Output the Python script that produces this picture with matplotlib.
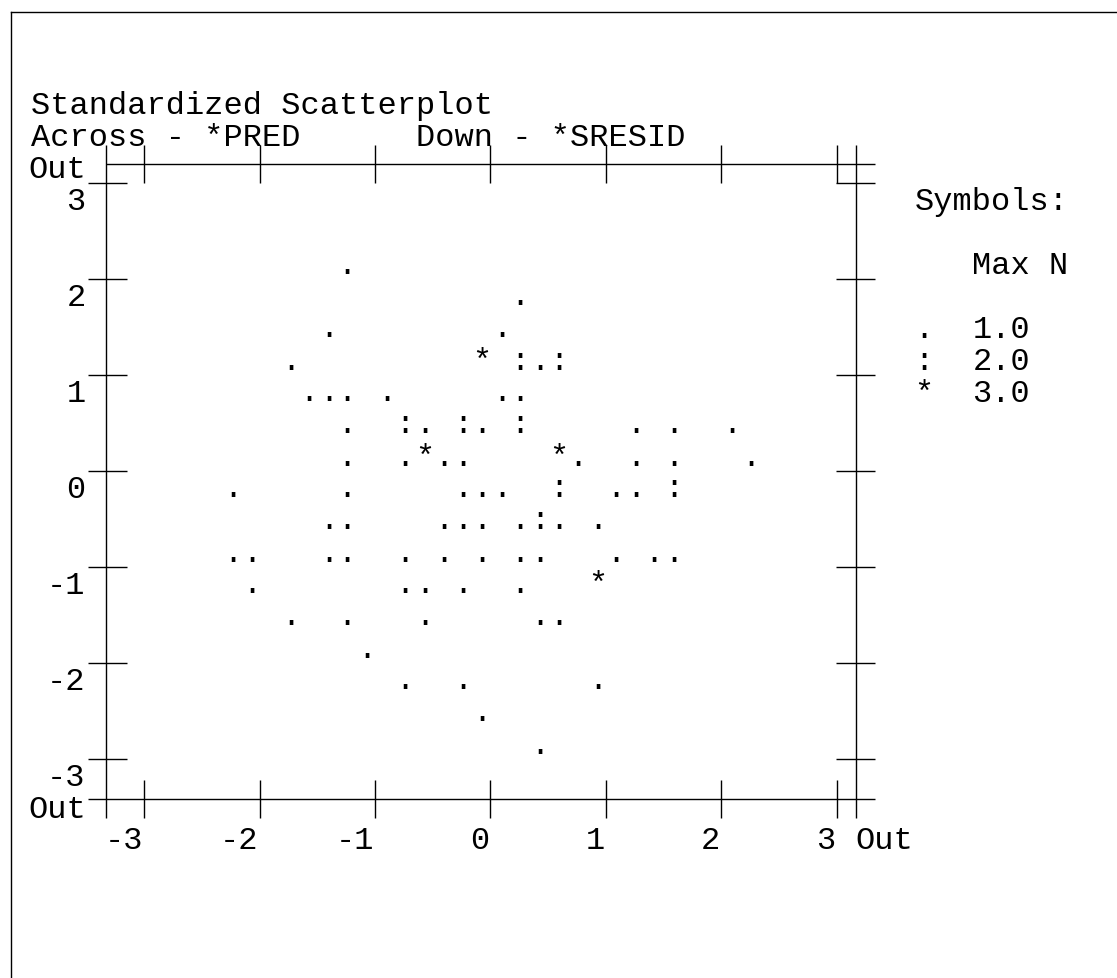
import matplotlib
matplotlib.use("Agg")
import matplotlib.pyplot as plt
import matplotlib.transforms as mtransforms
from matplotlib.lines import Line2D

# standardized predicted value (across) per plotted cell
pred = [-1.24,
        0.26,
        -1.40, 0.10,
        -1.73, -0.07, 0.26, 0.43, 0.59,
        -1.57, -1.40, -1.24, -0.90, 0.10, 0.26,
        -1.24, -0.74, -0.57, -0.24, -0.07, 0.26, 1.26, 1.59, 2.09,
        -1.24, -0.74, -0.57, -0.40, -0.24, 0.59, 0.76, 1.26, 1.59, 2.26,
        -2.23, -1.24, -0.24, -0.07, 0.10, 0.59, 1.09, 1.26, 1.59,
        -1.40, -1.24, -0.40, -0.24, -0.07, 0.26, 0.43, 0.59, 0.93,
        -2.23, -2.07, -1.40, -1.24, -0.74, -0.40, -0.07, 0.26, 0.43, 1.09, 1.42, 1.59,
        -2.07, -0.74, -0.57, -0.24, 0.26, 0.93,
        -1.73, -1.24, -0.57, 0.43, 0.59,
        -1.07,
        -0.74, -0.24, 0.93,
        -0.07,
        0.43]

# standardized residual (down) per plotted cell
sresid = [2.09,
          1.76,
          1.43, 1.43,
          1.09, 1.09, 1.09, 1.09, 1.09,
          0.76, 0.76, 0.76, 0.76, 0.76, 0.76,
          0.43, 0.43, 0.43, 0.43, 0.43, 0.43, 0.43, 0.43, 0.43,
          0.09, 0.09, 0.09, 0.09, 0.09, 0.09, 0.09, 0.09, 0.09, 0.09,
          -0.24, -0.24, -0.24, -0.24, -0.24, -0.24, -0.24, -0.24, -0.24,
          -0.57, -0.57, -0.57, -0.57, -0.57, -0.57, -0.57, -0.57, -0.57,
          -0.91, -0.91, -0.91, -0.91, -0.91, -0.91, -0.91, -0.91, -0.91, -0.91, -0.91, -0.91,
          -1.24, -1.24, -1.24, -1.24, -1.24, -1.24,
          -1.57, -1.57, -1.57, -1.57, -1.57,
          -1.91,
          -2.24, -2.24, -2.24,
          -2.57,
          -2.91]

# number of cases falling in each cell
n_cases = [1,
           1,
           1, 1,
           1, 3, 2, 1, 2,
           1, 1, 1, 1, 1, 1,
           1, 2, 1, 2, 1, 2, 1, 1, 1,
           1, 1, 3, 1, 1, 3, 1, 1, 1, 1,
           1, 1, 1, 1, 1, 2, 1, 1, 2,
           1, 1, 1, 1, 1, 1, 2, 1, 1,
           1, 1, 1, 1, 1, 1, 1, 1, 1, 1, 1, 1,
           1, 1, 1, 1, 1, 3,
           1, 1, 1, 1, 1,
           1,
           1, 1, 1,
           1,
           1]

symbols = [".", ":", "*"]
max_n = [1.0, 2.0, 3.0]

x_ticks = [-3, -2, -1, 0, 1, 2, 3]
y_ticks = [3, 2, 1, 0, -1, -2, -3]

W, H, DPI = 1117, 979, 100
FONT = "Liberation Mono"
FS = 23.04
LW = 1.0

# pixel position of 0 and pixel size of one unit
X0, UX = 490.3, 115.4
Y0, UY = 472.3, 96.0


def dx(px):
    return (px - X0) / UX


def dy(py):
    return (Y0 - py) / UY


def ftext(px, py, s, ha="left"):
    fig.text(px / W, 1 - py / H, s, ha=ha, va="baseline",
             family=FONT, fontsize=FS, color="black")


fig = plt.figure(figsize=(W / DPI, H / DPI), dpi=DPI)
fig.patch.set_facecolor("white")
ax = fig.add_axes([0, 0, 1, 1])
ax.set_xlim(dx(0), dx(W))
ax.set_ylim(dy(H), dy(0))
ax.axis("off")

# page border (left and top only)
fig.add_artist(Line2D([10.5 / W, 1], [1 - 12.7 / H, 1 - 12.7 / H],
                      transform=fig.transFigure, color="black", lw=LW))
fig.add_artist(Line2D([10.5 / W, 10.5 / W], [0, 1 - 12.7 / H],
                      transform=fig.transFigure, color="black", lw=LW))

kw = dict(color="black", lw=LW, solid_capstyle="butt")
left_x, right_x = dx(106.4), dx(855.6)
top_y, bot_y = dy(165), dy(800)

# frame
ax.plot([left_x, dx(875)], [top_y, top_y], **kw)
ax.plot([dx(87.5), dx(875)], [bot_y, bot_y], **kw)
ax.plot([left_x, left_x], [dy(146), dy(819)], **kw)
ax.plot([right_x, right_x], [dy(146), dy(819)], **kw)

for t in x_ticks:
    ax.plot([t, t], [dy(146), dy(184)], **kw)
    ax.plot([t, t], [dy(780.5), dy(819)], **kw)
    ax.text(t - 1 / UX, dy(849), str(t), ha="right", va="baseline",
            family=FONT, fontsize=FS)
ax.text(right_x, dy(849), "Out", ha="left", va="baseline",
        family=FONT, fontsize=FS)

for t in y_ticks:
    ax.plot([dx(87.5), dx(126.8)], [t, t], **kw)
    ax.plot([dx(836), dx(875)], [t, t], **kw)
    ax.text(dx(85.7), t - 25.4 / UY, str(t), ha="right", va="baseline",
            family=FONT, fontsize=FS)
ax.text(dx(85.7), dy(177.7), "Out", ha="right", va="baseline",
        family=FONT, fontsize=FS)
ax.text(dx(85.7), dy(817.7), "Out", ha="right", va="baseline",
        family=FONT, fontsize=FS)

# points, one character per cell
pt_trans = mtransforms.offset_copy(ax.transData, fig=fig, x=0, y=-2, units="dots")
for x, y, n in zip(pred, sresid, n_cases):
    ax.text(x, y, symbols[n - 1], ha="center", va="baseline",
            family=FONT, fontsize=FS, transform=pt_trans)

# titles
ftext(31.0, 113.7, "Standardized Scatterplot")
ftext(31.0, 145.7, "Across - *PRED      Down - *SRESID")

# symbol key
ftext(914.5, 209.7, "Symbols:")
ftext(971.5, 273.7, "Max N")
for i, (sym, m) in enumerate(zip(symbols, max_n)):
    py = 337.7 + 32 * i
    ftext(923.9, py, sym, ha="center")
    ftext(972.5, py, f"{m:.1f}")

fig.savefig("out.png", dpi=DPI)
